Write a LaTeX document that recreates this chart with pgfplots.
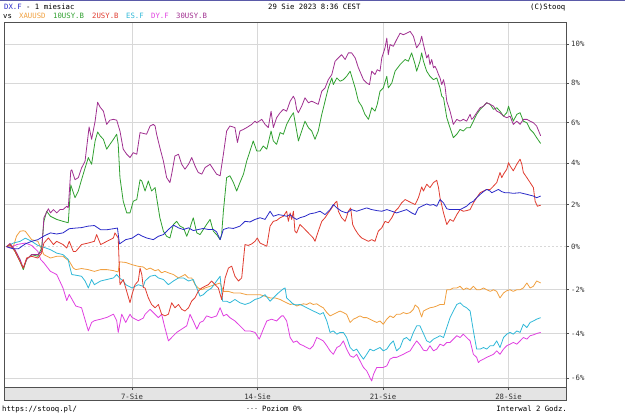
\documentclass[border=0pt]{standalone}
\usepackage{pgfplots}
\pgfplotsset{compat=1.18}
\usepackage{pgfplotstable}
\usepackage{fontspec}
\setmainfont{DejaVu Sans Mono}
\newcommand{\cf}{\fontsize{7.3bp}{8bp}\selectfont}
\definecolor{cDX}{HTML}{2A2AC8}
\definecolor{cXAU}{HTML}{F0A040}
\definecolor{cTEN}{HTML}{30A030}
\definecolor{cTWO}{HTML}{E03C30}
\definecolor{cES}{HTML}{30B8D8}
\definecolor{cDY}{HTML}{E040E0}
\definecolor{cTHI}{HTML}{A03090}
\definecolor{gridc}{HTML}{D8D8D8}
\definecolor{framec}{HTML}{505050}
\definecolor{bandc}{HTML}{E4E4E4}
\definecolor{barc}{HTML}{5A5AA8}

\pgfplotstableread{
d p
0 0
0.27 -0.1
0.47 -0.1
0.75 0.13
1.0 0.25
1.25 0.33
1.49 0.5
1.75 0.65
2.0 0.6
2.25 0.65
2.5 0.85
2.76 0.88
2.99 0.9
3.25 0.97
3.5 1.0
3.75 0.8
4.0 0.8
4.26 0.85
4.42 0.88
4.5 0.13
4.75 0.33
5.0 0.4
5.25 0.6
5.4 0.5
5.58 0.41
5.85 0.33
6.05 0.49
6.25 0.57
6.45 0.81
6.65 1.02
6.85 0.89
7.05 0.81
7.25 0.89
7.44 0.76
7.64 0.81
7.84 0.86
8.04 0.81
8.24 0.81
8.37 0.7
8.51 0.33
8.64 0.81
8.84 0.89
9.04 0.86
9.3 0.97
9.5 1.2
9.7 1.17
9.9 1.29
10.1 1.37
10.3 1.29
10.5 1.68
10.63 1.44
10.83 1.52
11.03 1.48
11.16 1.44
11.3 1.52
11.43 1.37
11.56 1.29
11.69 1.37
11.89 1.44
12.09 1.56
12.29 1.6
12.49 1.68
12.69 1.52
12.89 1.76
13.02 2.0
13.16 1.84
13.35 1.68
13.55 1.6
13.75 1.76
13.95 1.68
14.15 1.76
14.35 1.84
14.55 1.76
14.75 1.71
14.95 1.68
15.15 1.76
15.35 1.68
15.54 1.6
15.74 1.68
15.94 1.76
16.14 1.6
16.28 1.52
16.41 1.84
16.54 1.92
16.74 2.03
16.87 1.97
17.01 2.0
17.14 1.92
17.27 2.24
17.41 2.08
17.54 1.8
17.67 1.76
17.94 1.76
18.07 1.76
18.2 1.84
18.33 1.92
18.47 2.08
18.6 2.16
18.73 2.33
18.87 2.49
19.0 2.62
19.13 2.73
19.27 2.65
19.33 2.57
19.47 2.65
19.6 2.73
19.73 2.62
19.86 2.57
20.0 2.57
20.19 2.54
20.46 2.57
20.73 2.49
20.99 2.41
21.12 2.33
21.28 2.41
}\tDX

\pgfplotstableread{
d p
0 0
0.27 0
0.4 0.5
0.54 0.73
0.67 0.75
0.75 0.73
1.0 0.33
1.25 0.25
1.49 -0.37
1.75 -0.53
2.0 -0.45
2.25 -0.45
2.5 -0.68
2.66 -1.0
2.76 -1.07
2.99 -1.02
3.25 -1.07
3.5 -1.15
3.75 -1.07
4.0 -1.07
4.26 -1.12
4.45 -1.18
4.5 -0.71
4.75 -0.74
5.0 -0.84
5.25 -0.92
5.45 -0.95
5.58 -1.07
5.72 -1.0
5.92 -1.12
6.05 -1.07
6.18 -1.22
6.31 -1.15
6.45 -1.22
6.65 -1.3
6.85 -1.46
6.98 -1.38
7.11 -1.3
7.25 -1.46
7.38 -1.46
7.51 -1.77
7.64 -1.92
7.78 -2.0
7.91 -1.92
8.11 -1.84
8.31 -1.77
8.51 -1.69
8.64 -2.08
8.84 -2.08
9.04 -2.15
9.3 -2.15
9.57 -2.23
9.83 -2.23
10.1 -2.23
10.3 -2.3
10.5 -2.38
10.7 -2.38
10.9 -2.45
11.03 -2.53
11.16 -2.6
11.3 -2.68
11.43 -2.65
11.56 -2.75
11.69 -2.7
11.83 -2.65
11.96 -2.68
12.09 -2.6
12.22 -2.68
12.36 -2.65
12.49 -2.75
12.62 -2.83
12.76 -3.05
12.89 -3.2
13.02 -3.13
13.16 -3.05
13.29 -2.98
13.42 -3.05
13.55 -3.13
13.69 -3.5
13.82 -3.35
13.95 -3.28
14.08 -3.2
14.22 -3.28
14.35 -3.28
14.48 -3.35
14.62 -3.43
14.75 -3.5
14.88 -3.43
15.01 -3.58
15.15 -3.35
15.28 -3.2
15.41 -3.28
15.54 -3.13
15.68 -3.13
15.81 -3.05
15.94 -3.1
16.08 -3.05
16.21 -2.9
16.28 -2.7
16.41 -2.83
16.5 -3.13
16.54 -3.25
16.61 -2.98
16.74 -2.9
16.87 -2.83
17.01 -2.8
17.14 -2.75
17.27 -2.68
17.44 -2.68
17.54 -2.0
17.67 -2.0
17.8 -1.92
17.94 -1.92
18.07 -1.84
18.2 -2.0
18.33 -1.92
18.47 -2.0
18.6 -1.84
18.73 -2.0
18.87 -2.0
19.0 -1.92
19.13 -2.0
19.27 -2.08
19.4 -2.0
19.53 -2.08
19.66 -2.38
19.8 -2.15
19.93 -2.05
20.06 -2.0
20.19 -2.08
20.33 -2.0
20.46 -2.0
20.59 -1.92
20.73 -1.69
20.86 -1.92
20.99 -1.84
21.12 -1.6
21.28 -1.69
}\tXAU

\pgfplotstableread{
d p
0 0
0.27 0.17
0.54 0.25
0.75 0.4
1.0 0.25
1.25 0.06
1.49 -0.03
1.75 -0.14
2.0 -0.3
2.25 -0.37
2.46 -0.6
2.5 -0.84
2.6 -1.3
2.76 -1.33
2.99 -1.38
3.13 -1.6
3.26 -1.92
3.39 -1.53
3.5 -1.77
3.75 -1.6
4.0 -1.53
4.26 -1.46
4.39 -1.3
4.5 -1.46
4.65 -1.6
4.75 -1.77
5.0 -1.92
5.25 -1.77
5.45 -1.85
5.52 -1.6
5.72 -1.38
5.92 -1.33
6.05 -1.46
6.25 -1.53
6.45 -1.77
6.65 -1.6
6.85 -1.46
7.05 -1.46
7.25 -1.6
7.44 -1.53
7.58 -1.92
7.71 -2.3
7.84 -2.23
7.97 -2.08
8.17 -1.92
8.37 -1.6
8.51 -1.38
8.61 -2.53
8.77 -2.53
8.9 -2.6
9.1 -2.45
9.3 -2.6
9.5 -2.68
9.7 -2.6
9.9 -2.45
10.1 -2.38
10.3 -2.23
10.5 -2.53
10.63 -2.38
10.83 -2.15
11.03 -1.96
11.1 -1.92
11.16 -2.38
11.3 -2.53
11.43 -2.68
11.56 -2.7
11.69 -2.68
11.83 -2.75
11.96 -2.83
12.09 -2.9
12.22 -2.98
12.36 -3.05
12.49 -3.13
12.62 -3.05
12.76 -3.43
12.89 -3.95
13.02 -3.88
13.16 -4.03
13.29 -3.95
13.42 -3.95
13.55 -4.18
13.69 -4.63
13.82 -4.78
13.95 -4.7
14.08 -4.93
14.22 -5.15
14.35 -4.93
14.48 -4.7
14.62 -4.78
14.75 -4.7
14.88 -4.63
15.01 -4.78
15.15 -4.7
15.28 -4.48
15.41 -4.33
15.54 -4.78
15.68 -4.63
15.81 -4.25
15.94 -4.18
16.08 -4.33
16.21 -3.95
16.34 -3.65
16.47 -3.65
16.61 -4.0
16.74 -4.33
16.87 -4.4
17.01 -4.25
17.14 -4.18
17.27 -4.1
17.41 -4.18
17.54 -3.73
17.67 -3.28
17.8 -2.98
17.94 -2.68
18.07 -2.6
18.2 -2.75
18.33 -2.83
18.47 -2.98
18.6 -3.88
18.73 -4.7
18.87 -4.7
19.0 -4.63
19.13 -4.7
19.27 -4.55
19.4 -4.55
19.53 -4.33
19.66 -4.63
19.8 -4.18
19.93 -4.03
20.06 -3.95
20.19 -4.03
20.33 -3.88
20.46 -3.95
20.59 -3.58
20.73 -3.73
20.86 -3.5
20.99 -3.43
21.12 -3.35
21.28 -3.28
}\tES

\pgfplotstableread{
d p
0 0
0.14 -0.06
0.41 0.1
0.75 0.17
1.0 0.06
1.25 -0.22
1.36 -0.6
1.49 -0.76
1.75 -1.15
2.0 -1.3
2.25 -1.92
2.4 -2.5
2.5 -2.22
2.76 -2.75
2.99 -2.83
3.26 -3.88
3.39 -3.5
3.5 -3.42
3.75 -3.35
4.0 -3.27
4.26 -3.12
4.39 -3.42
4.45 -3.95
4.59 -3.12
4.75 -3.5
4.92 -3.12
5.0 -3.27
5.25 -3.42
5.45 -3.3
5.52 -3.13
5.72 -2.9
5.92 -3.13
6.05 -3.28
6.18 -3.13
6.31 -3.73
6.45 -4.33
6.58 -4.18
6.78 -3.95
6.98 -3.8
7.18 -3.65
7.31 -3.13
7.44 -3.43
7.58 -3.8
7.71 -3.5
7.84 -3.43
7.97 -3.2
8.17 -3.28
8.37 -3.2
8.51 -2.83
8.64 -3.2
8.77 -3.13
8.9 -3.28
9.1 -3.43
9.3 -3.65
9.5 -3.88
9.7 -3.88
9.9 -3.95
10.07 -4.25
10.23 -3.8
10.37 -3.43
10.56 -3.35
10.76 -3.43
10.96 -3.2
11.03 -3.2
11.16 -3.43
11.3 -4.18
11.43 -4.4
11.56 -4.33
11.69 -4.48
11.83 -4.55
11.96 -4.63
12.09 -4.7
12.22 -4.55
12.36 -4.18
12.49 -4.25
12.62 -4.33
12.76 -4.55
12.89 -4.78
13.02 -4.93
13.16 -4.63
13.29 -4.55
13.42 -4.33
13.55 -4.7
13.69 -5.0
13.82 -5.07
13.95 -4.93
14.08 -5.22
14.22 -5.52
14.35 -5.67
14.48 -5.97
14.55 -6.12
14.62 -5.82
14.75 -5.52
14.88 -5.52
15.01 -5.52
15.15 -5.45
15.28 -5.15
15.41 -5.07
15.54 -5.07
15.68 -5.0
15.81 -4.93
15.94 -4.85
16.08 -4.78
16.21 -4.55
16.34 -4.33
16.47 -4.5
16.61 -4.75
16.74 -4.78
16.87 -4.55
17.01 -4.78
17.14 -4.7
17.27 -4.48
17.41 -4.55
17.54 -4.4
17.67 -4.4
17.8 -4.25
17.94 -4.1
18.07 -4.18
18.2 -4.03
18.33 -4.18
18.47 -4.33
18.6 -4.93
18.73 -5.07
18.8 -5.3
18.87 -5.22
19.0 -5.15
19.13 -5.07
19.27 -5.0
19.4 -4.93
19.53 -4.78
19.66 -4.93
19.8 -4.7
19.93 -4.55
20.06 -4.48
20.19 -4.4
20.33 -4.48
20.46 -4.33
20.59 -4.18
20.73 -4.25
20.86 -4.1
20.99 -4.06
21.12 -4.0
21.28 -3.95
}\tDY

\pgfplotstableread{
d p
0 0
0.14 0.1
0.34 -0.22
0.47 -0.53
0.67 -1.0
0.8 -0.53
1.0 -0.45
1.25 -0.53
1.4 -0.3
1.49 0.17
1.67 0.41
1.87 0.1
2.0 0.25
2.25 0.1
2.4 -0.06
2.5 0.25
2.66 -0.22
2.76 -0.22
2.99 0.1
3.25 0.17
3.5 0.25
3.59 0.57
3.75 0.1
4.0 0.25
4.26 0.41
4.32 0.65
4.45 0.41
4.52 -1.77
4.65 -1.53
4.75 -1.92
4.92 -2.6
5.0 -2.22
5.12 -1.77
5.25 -1.6
5.32 -1.0
5.39 -1.3
5.45 -1.9
5.52 -1.92
5.65 -2.37
5.78 -2.68
5.92 -2.83
6.05 -2.68
6.18 -3.12
6.31 -3.2
6.45 -3.12
6.58 -2.6
6.71 -2.83
6.85 -2.68
6.98 -2.9
7.11 -2.98
7.25 -2.83
7.38 -2.52
7.51 -2.37
7.64 -2.07
7.78 -1.92
7.91 -1.84
8.04 -1.77
8.17 -1.6
8.31 -1.77
8.44 -1.92
8.57 -2.45
8.71 -1.46
8.84 -1.0
8.97 -0.91
9.1 -1.38
9.24 -1.6
9.37 -1.46
9.5 0.1
9.63 0.06
9.77 0.13
9.9 0.25
9.99 0.41
10.1 0.17
10.23 0.1
10.37 0.02
10.5 0.97
10.63 1.2
10.76 1.24
10.9 1.37
11.03 1.44
11.16 1.68
11.23 1.2
11.3 1.6
11.36 1.29
11.43 1.68
11.49 0.73
11.56 0.65
11.69 1.05
11.83 0.89
11.96 0.73
12.09 0.57
12.22 0.41
12.29 0.25
12.42 0.73
12.56 1.2
12.69 1.37
12.82 1.6
12.96 1.84
13.09 2.08
13.16 2.16
13.22 1.68
13.35 1.37
13.49 1.2
13.62 1.68
13.71 1.84
13.79 1.05
13.89 0.81
14.02 0.57
14.15 0.41
14.28 0.33
14.42 0.25
14.55 0.33
14.68 0.25
14.81 0.73
14.95 0.89
15.08 1.2
15.21 1.13
15.35 1.37
15.48 1.68
15.61 1.84
15.74 2.08
15.88 2.24
16.01 2.16
16.14 2.08
16.28 2.0
16.41 2.33
16.54 2.85
16.61 2.65
16.74 2.98
16.87 2.82
17.01 3.06
17.14 3.17
17.21 2.82
17.27 2.33
17.41 1.6
17.54 1.05
17.67 1.29
17.8 1.2
17.94 1.52
18.07 1.76
18.2 1.68
18.33 1.71
18.47 1.76
18.6 2.08
18.73 2.33
18.87 2.57
19.0 2.65
19.13 2.73
19.27 2.73
19.4 2.89
19.53 3.06
19.66 3.55
19.73 3.3
19.8 3.47
19.93 3.71
20.0 4.03
20.06 3.87
20.19 3.63
20.33 3.95
20.46 4.2
20.53 3.95
20.59 3.55
20.73 3.3
20.86 3.06
20.99 2.82
21.06 2.16
21.15 1.92
21.28 1.97
}\tTWO

\pgfplotstableread{
d p
0 0
0.14 0.1
0.34 -0.22
0.54 -0.7
0.67 -1.07
0.8 -0.6
1.0 -0.37
1.25 -0.45
1.4 -0.06
1.49 1.2
1.6 1.68
1.75 1.44
2.0 1.29
2.25 1.2
2.46 1.13
2.56 2.95
2.73 2.33
2.86 2.65
2.99 3.2
3.13 3.77
3.26 4.28
3.39 3.95
3.53 5.1
3.63 5.54
3.73 5.35
3.86 5.18
3.99 4.69
4.12 4.93
4.26 5.18
4.39 5.43
4.45 4.93
4.52 3.3
4.65 2.16
4.79 1.6
4.92 1.6
5.05 2.16
5.19 2.24
5.32 3.2
5.39 3.14
5.52 2.65
5.65 3.14
5.78 2.65
5.92 2.82
5.98 2.33
6.11 1.37
6.25 0.73
6.38 0.49
6.51 0.41
6.65 1.05
6.78 1.2
6.91 0.97
7.05 0.89
7.18 0.49
7.31 0.89
7.44 1.37
7.58 0.65
7.71 0.57
7.84 0.81
7.97 1.05
8.11 1.29
8.24 0.73
8.37 0.57
8.51 0.33
8.57 0.57
8.64 1.68
8.77 3.3
8.9 3.39
9.04 3.06
9.17 2.65
9.3 3.06
9.44 3.47
9.57 4.11
9.7 4.6
9.83 5.1
9.97 4.6
10.1 4.6
10.23 4.85
10.37 4.69
10.54 5.59
10.63 5.1
10.76 4.93
10.9 5.51
11.03 5.43
11.16 5.92
11.3 6.25
11.43 6.5
11.49 6.08
11.63 5.1
11.76 5.59
11.89 6.08
12.03 5.75
12.16 5.59
12.29 5.18
12.42 5.59
12.56 6.42
12.69 7.08
12.82 7.75
12.96 8.26
13.02 7.92
13.16 8.26
13.29 8.09
13.42 8.17
13.55 8.34
13.69 8.6
13.75 8.34
13.89 7.75
14.02 7.08
14.15 6.83
14.28 6.42
14.42 6.17
14.55 6.75
14.68 6.58
14.77 6.92
14.88 7.58
15.01 7.75
15.15 8.34
15.21 7.75
15.35 8.0
15.48 8.6
15.68 8.94
15.88 9.2
16.01 9.11
16.14 9.54
16.28 8.94
16.34 8.6
16.47 9.11
16.54 9.54
16.61 9.11
16.74 8.6
16.87 8.34
17.01 8.17
17.14 8.26
17.27 7.75
17.34 7.33
17.41 7.25
17.54 6.25
17.67 5.75
17.8 5.26
17.94 5.43
18.07 5.67
18.2 5.59
18.33 5.75
18.47 5.75
18.6 6.08
18.73 6.42
18.87 6.67
19.0 6.83
19.13 7.0
19.27 6.92
19.4 6.67
19.53 6.75
19.66 6.58
19.8 6.33
19.93 6.5
20.0 6.83
20.06 6.58
20.19 6.08
20.33 6.42
20.46 6.5
20.59 6.08
20.73 6.0
20.86 5.67
20.99 5.51
21.12 5.26
21.28 4.97
}\tTEN

\pgfplotstableread{
d p
0 0
0.14 0.15
0.34 -0.15
0.54 -0.6
0.67 -1.0
0.8 -0.6
1.0 -0.37
1.25 -0.37
1.4 -0.22
1.49 1.37
1.67 1.8
1.75 1.6
1.87 1.76
2.0 1.6
2.13 1.76
2.25 1.76
2.4 1.92
2.46 1.84
2.56 3.63
2.6 3.68
2.73 3.2
2.86 3.3
2.99 3.77
3.13 4.11
3.29 5.79
3.39 5.18
3.53 6.08
3.63 7.03
3.73 6.78
3.86 6.58
3.99 5.92
4.12 6.13
4.26 6.17
4.39 6.13
4.52 5.59
4.65 4.69
4.79 4.44
4.92 4.28
5.05 4.52
5.19 4.44
5.32 5.51
5.45 5.47
5.58 5.43
5.72 5.84
5.85 5.92
5.92 5.84
5.98 5.43
6.11 4.77
6.25 4.11
6.38 3.3
6.51 3.06
6.58 3.47
6.71 4.36
6.85 4.44
6.98 3.95
7.11 3.71
7.25 3.95
7.38 4.28
7.51 3.87
7.64 3.55
7.78 3.47
7.91 3.79
8.11 3.95
8.24 3.71
8.37 3.47
8.51 3.39
8.64 4.44
8.77 5.59
8.9 5.84
9.1 5.76
9.2 5.02
9.3 5.59
9.44 5.67
9.57 5.76
9.77 5.92
9.9 6.08
9.97 6.0
10.17 6.17
10.3 5.92
10.43 5.76
10.54 6.58
10.63 5.76
10.76 6.25
10.9 6.5
11.03 6.67
11.16 6.58
11.3 7.08
11.43 7.33
11.49 7.17
11.56 6.67
11.63 6.5
11.76 6.83
11.89 7.25
12.03 7.0
12.16 7.08
12.29 7.0
12.42 6.92
12.56 7.58
12.69 7.75
12.82 8.17
12.96 8.43
13.09 9.11
13.22 9.28
13.35 9.45
13.49 9.2
13.62 9.54
13.75 9.54
13.89 9.28
14.02 8.77
14.22 8.17
14.35 8.0
14.46 7.92
14.55 8.6
14.68 8.43
14.77 8.68
14.88 8.6
14.95 9.28
15.08 9.8
15.15 10.3
15.21 9.45
15.28 9.97
15.41 9.88
15.54 10.22
15.68 10.56
15.81 10.48
15.94 10.56
16.08 10.65
16.21 10.4
16.34 9.8
16.47 10.05
16.54 10.4
16.61 9.97
16.74 9.28
16.81 9.45
16.87 8.94
16.94 9.2
17.01 8.77
17.07 8.85
17.14 8.68
17.21 8.43
17.27 8.26
17.34 7.92
17.41 8.17
17.47 7.83
17.54 7.08
17.67 6.58
17.8 5.92
17.94 6.17
18.07 6.08
18.2 6.17
18.33 6.08
18.47 6.42
18.53 6.17
18.6 6.25
18.73 6.5
18.87 6.75
19.0 6.83
19.13 7.0
19.27 6.92
19.4 6.83
19.53 6.58
19.66 6.5
19.8 6.33
19.93 6.25
20.06 6.33
20.19 5.92
20.33 6.08
20.46 5.92
20.59 6.17
20.73 6.17
20.86 6.08
20.99 6.0
21.12 5.84
21.28 5.35
}\tTHI

\begin{document}
\begin{tikzpicture}[x=1bp,y=1bp]
\useasboundingbox (0,0) rectangle (625,414);
\fill[barc] (0,412.8) rectangle (625,414);
% date band under the plot
\fill[bandc] (4,14) rectangle (566,27);
\begin{axis}[
  at={(4bp,27bp)}, anchor=south west,
  scale only axis, width=562bp, height=365bp,
  xmin=-0.1, xmax=22.29,
  ymode=log, ymin=0.93616, ymax=1.1114,
  axis line style={draw=framec, line width=0.7bp},
  xtick={5,10,15,20},
  xticklabels={7-Sie,14-Sie,21-Sie,28-Sie},
  xtick pos=bottom,
  ytick={0.94,0.96,0.98,1.02,1.04,1.06,1.08,1.10},
  yticklabels={-6\%,-4\%,-2\%,2\%,4\%,6\%,8\%,10\%},
  extra y ticks={1},
  extra y tick labels={0\%},
  extra y tick style={grid style={draw=gray!70, dash pattern=on 2bp off 2bp, line width=0.5bp}},
  ytick pos=right, yticklabel pos=right,
  tick align=outside,
  major tick length=3bp,
  tick style={draw=framec, line width=0.6bp},
  grid=major,
  major grid style={draw=gridc, line width=0.6bp},
  xticklabel style={font=\cf, anchor=center, yshift=-6.8bp, inner sep=0pt, text=black!80},
  yticklabel style={font=\cf, anchor=west, xshift=2bp, inner sep=0pt, text=black!80},
  every axis plot/.append style={line width=0.8bp, line join=round},
  clip=true,
]
\addplot[cXAU] table[x=d, y expr=1+\thisrow{p}/100] {\tXAU};
\addplot[cES] table[x=d, y expr=1+\thisrow{p}/100] {\tES};
\addplot[cDY] table[x=d, y expr=1+\thisrow{p}/100] {\tDY};
\addplot[cTEN] table[x=d, y expr=1+\thisrow{p}/100] {\tTEN};
\addplot[cTHI] table[x=d, y expr=1+\thisrow{p}/100] {\tTHI};
\addplot[cTWO] table[x=d, y expr=1+\thisrow{p}/100] {\tTWO};
\addplot[cDX] table[x=d, y expr=1+\thisrow{p}/100] {\tDX};
\end{axis}
\draw[framec, line width=0.7bp] (4,14) rectangle (566,392);
% header
\node[anchor=base west, inner sep=0pt, font=\cf] at (4,404.7) {\textcolor{cDX}{DX.F} - 1 miesiac};
\node[anchor=base west, inner sep=0pt, font=\cf] at (268,404.7) {29 Sie 2023 8:36 CEST};
\node[anchor=base west, inner sep=0pt, font=\cf] at (530,404.7) {(C)Stooq};
\node[anchor=base west, inner sep=0pt, font=\cf] at (3,395.7) {vs};
\node[anchor=base west, inner sep=0pt, font=\cf, text=cXAU] at (19,395.7) {XAUUSD};
\node[anchor=base west, inner sep=0pt, font=\cf, text=cTEN] at (53,395.7) {10USY.B};
\node[anchor=base west, inner sep=0pt, font=\cf, text=cTWO] at (92,395.7) {2USY.B};
\node[anchor=base west, inner sep=0pt, font=\cf, text=cES] at (126,395.7) {ES.F};
\node[anchor=base west, inner sep=0pt, font=\cf, text=cDY] at (151,395.7) {DY.F};
\node[anchor=base west, inner sep=0pt, font=\cf, text=cTHI] at (176,395.7) {30USY.B};
% footer
\node[anchor=base west, inner sep=0pt, font=\cf] at (2,3) {https://stooq.pl/};
\draw[gray!70, line width=0.5bp, dash pattern=on 2bp off 2bp] (247,5.5) -- (259,5.5);
\node[anchor=base west, inner sep=0pt, font=\cf] at (262,3) {Poziom 0\%};
\node[anchor=base east, inner sep=0pt, font=\cf] at (567,3) {Interwal 2 Godz.};
\end{tikzpicture}
\end{document}
